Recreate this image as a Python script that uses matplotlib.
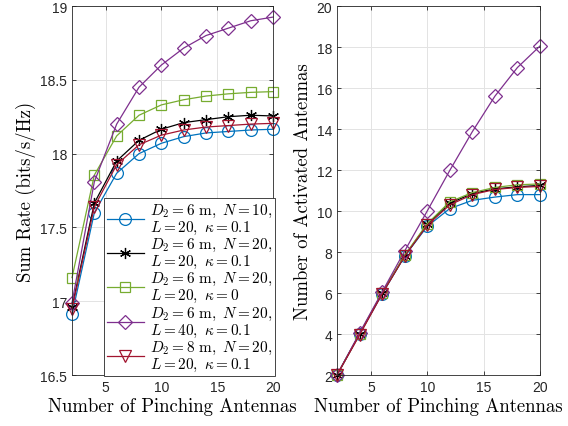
import matplotlib
matplotlib.use('Agg')
import matplotlib.pyplot as plt

plt.rcParams['mathtext.fontset'] = 'cm'
plt.rcParams['font.family'] = ['Liberation Sans', 'DejaVu Sans']
plt.rcParams['axes.unicode_minus'] = False

n_pa = [2, 4, 6, 8, 10, 12, 14, 16, 18, 20]

# sum rate (bits/s/Hz)
rate_n10 = [16.91, 17.60, 17.867, 18.00, 18.07, 18.115, 18.14, 18.15, 18.16, 18.165]
rate_n20 = [16.96, 17.665, 17.95, 18.09, 18.165, 18.21, 18.23, 18.25, 18.26, 18.255]
rate_k0 = [17.16, 17.855, 18.12, 18.26, 18.33, 18.365, 18.39, 18.405, 18.415, 18.42]
rate_l40 = [16.99, 17.81, 18.20, 18.45, 18.60, 18.715, 18.80, 18.85, 18.90, 18.925]
rate_d8 = [16.95, 17.64, 17.925, 18.06, 18.125, 18.16, 18.18, 18.19, 18.20, 18.205]

# number of activated antennas
act_n10 = [2.0, 4.0, 5.95, 7.8, 9.25, 10.12, 10.52, 10.68, 10.8, 10.8]
act_n20 = [2.0, 4.0, 6.0, 7.8, 9.35, 10.38, 10.85, 11.08, 11.18, 11.25]
act_k0 = [2.0, 4.0, 6.0, 7.85, 9.38, 10.45, 10.9, 11.15, 11.28, 11.32]
act_l40 = [2.0, 4.05, 6.05, 8.05, 10.0, 11.98, 13.87, 15.6, 17.0, 18.05]
act_d8 = [2.0, 3.95, 5.95, 7.8, 9.3, 10.3, 10.8, 11.05, 11.15, 11.2]

labels = [r'$D_2=6\ \mathrm{m},\ N=10,$' + '\n' + r'$L=20,\ \kappa=0.1$',
          r'$D_2=6\ \mathrm{m},\ N=20,$' + '\n' + r'$L=20,\ \kappa=0.1$',
          r'$D_2=6\ \mathrm{m},\ N=20,$' + '\n' + r'$L=20,\ \kappa=0$',
          r'$D_2=6\ \mathrm{m},\ N=20,$' + '\n' + r'$L=40,\ \kappa=0.1$',
          r'$D_2=8\ \mathrm{m},\ N=20,$' + '\n' + r'$L=20,\ \kappa=0.1$']
colors = ['#0072BD', 'black', '#77AC30', '#7E2F8E', '#A2142F']
markers = ['o', (6, 2, 0), 's', 'D', 'v']
msizes = [8.5, 8, 7.5, 7.5, 8.5]

rates = [rate_n10, rate_n20, rate_k0, rate_l40, rate_d8]
acts = [act_n10, act_n20, act_k0, act_l40, act_d8]

fig = plt.figure(figsize=(5.68, 4.27), dpi=100)
ax1 = fig.add_axes([0.1268, 0.1194, 0.3539, 0.8642])
ax2 = fig.add_axes([0.5933, 0.1194, 0.3574, 0.8642])

for i in range(5):
    ax1.plot(n_pa, rates[i], color=colors[i], marker=markers[i], ms=msizes[i],
             mfc='none', mew=0.9, lw=0.9, label=labels[i], clip_on=False)
    ax2.plot(n_pa, acts[i], color=colors[i], marker=markers[i], ms=msizes[i],
             mfc='none', mew=0.9, lw=0.9, clip_on=False)

lab_font = {'family': 'cmr10', 'size': 13.5}
for ax in (ax1, ax2):
    ax.set_xlim(2, 20)
    ax.set_xticks([5, 10, 15, 20])
    ax.grid(True, color='#e3e3e3', lw=0.7)
    ax.set_axisbelow(True)
    ax.tick_params(direction='in', top=True, right=True, labelsize=10, length=3,
                   colors='#262626', width=0.6, labelfontfamily='Liberation Sans')
    for s in ax.spines.values():
        s.set_color('#262626')
        s.set_linewidth(0.6)
    ax.set_xlabel('Number of Pinching Antennas', fontdict=lab_font, labelpad=2)

ax1.set_ylim(16.5, 19)
ax1.set_yticks([16.5, 17, 17.5, 18, 18.5, 19])
ax1.set_yticklabels(['16.5', '17', '17.5', '18', '18.5', '19'])
ax1.set_ylabel('Sum Rate (bits/s/Hz)', fontdict=lab_font, labelpad=3)

ax2.set_ylim(2, 20)
ax2.set_yticks([2, 4, 6, 8, 10, 12, 14, 16, 18, 20])
ax2.set_ylabel('Number of Activated Antennas', fontdict=lab_font, labelpad=3)

leg = ax1.legend(loc='lower right', bbox_to_anchor=(1.01, -0.003), fontsize=11,
                 fancybox=False, framealpha=1, edgecolor='#262626',
                 handlelength=2.4, labelspacing=0.0, borderpad=0.2,
                 handletextpad=0.4, borderaxespad=0)
leg.get_frame().set_linewidth(0.6)
leg.set_zorder(5)
for t in leg.get_texts():
    t.set_linespacing(1.0)

fig.savefig('out.png', dpi=100)
